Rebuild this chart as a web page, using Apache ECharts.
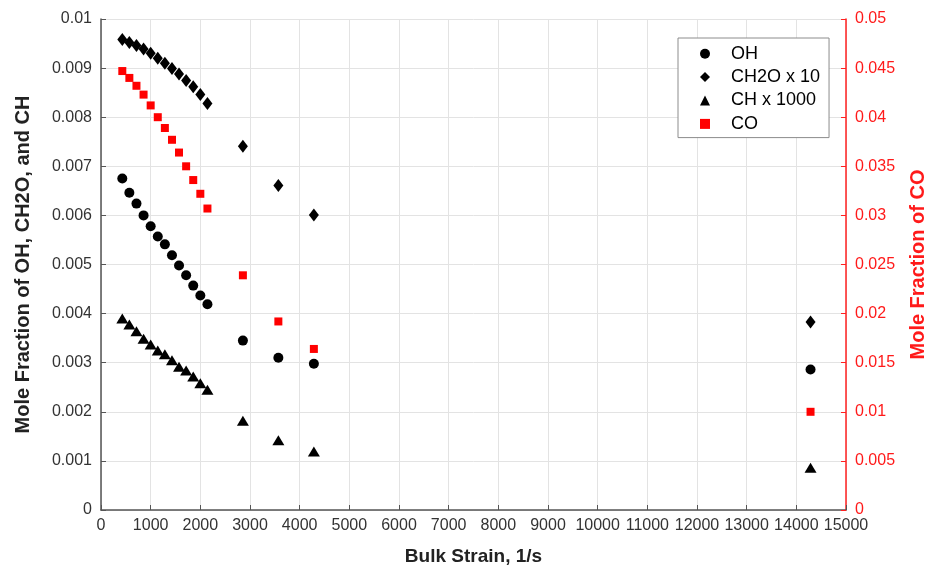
<!DOCTYPE html>
<html>
<head>
<meta charset="utf-8">
<script src="https://cdn.jsdelivr.net/npm/echarts@6/dist/echarts.min.js"></script>
<style>
  html, body { margin: 0; padding: 0; background: #fff; }
  #chart { width: 926px; height: 569px; }
</style>
</head>
<body>
<div id="chart"></div>
<script>
(function () {

    // bulk strain, 1/s
    var strain = [429, 571, 714, 857, 1000, 1143, 1286, 1429, 1571, 1714, 1857, 2000, 2143, 2857, 3571, 4286, 14286];

    var oh = [0.00675, 0.00646, 0.00624, 0.00600, 0.00578, 0.00557, 0.00541, 0.00519, 0.00498, 0.00478, 0.00457, 0.00437, 0.00419,
        0.00345, 0.00310, 0.00298, 0.00286];
    var ch2o = [0.00958, 0.00952, 0.00946, 0.00939, 0.00930, 0.00920, 0.00910, 0.00899, 0.00888, 0.00875, 0.00862, 0.00846, 0.00828,
        0.00741, 0.00661, 0.00601, 0.00383];
    var ch = [0.00390, 0.00378, 0.00364, 0.00349, 0.00337, 0.00325, 0.00317, 0.00305, 0.00292, 0.00284, 0.00272, 0.00258, 0.00245,
        0.00182, 0.00142, 0.00119, 0.00086];
    var co = [0.0447, 0.0440, 0.0432, 0.0423, 0.0412, 0.0400, 0.0389, 0.0377, 0.0364, 0.0350, 0.0336, 0.0322, 0.0307,
        0.0239, 0.0192, 0.0164, 0.0100];

    var xTicks = [0, 1000, 2000, 3000, 4000, 5000, 6000, 7000, 8000, 9000, 10000, 11000, 12000, 13000, 14000, 15000];
    var leftTicks = ['0', '0.001', '0.002', '0.003', '0.004', '0.005', '0.006', '0.007', '0.008', '0.009', '0.01'];
    var rightTicks = ['0', '0.005', '0.01', '0.015', '0.02', '0.025', '0.03', '0.035', '0.04', '0.045', '0.05'];

    var font = "'Liberation Sans', Arial, sans-serif";

    function pairs(ys) {
        return strain.map(function (x, i) { return [x, ys[i]]; });
    }

    function tickIndex(value, step) {
        return Math.round(value / step);
    }

    var option = {
        animation: false,
        textStyle: { fontFamily: font },
        grid: {
            left: 101,
            right: 80,
            top: 19,
            bottom: 59,
            outerBoundsMode: 'none',
            containLabel: false
        },
        legend: {
            orient: 'vertical',
            left: 678,
            top: 38,
            padding: [4, 9, 2, 22],
            itemGap: 0,
            itemWidth: 10,
            itemHeight: 10,
            backgroundColor: '#fff',
            borderColor: '#8c8c8c',
            borderWidth: 1,
            borderRadius: 0,
            textStyle: { fontSize: 18, color: '#000', lineHeight: 23.4, padding: [0, 0, 0, 16], fontFamily: font },
            data: [
                { name: 'OH', icon: 'circle' },
                { name: 'CH2O x 10', icon: 'diamond' },
                { name: 'CH x 1000', icon: 'triangle' },
                { name: 'CO', icon: 'rect', itemStyle: { color: '#ff0000' } }
            ]
        },
        xAxis: {
            type: 'value',
            min: xTicks[0],
            max: xTicks[xTicks.length - 1],
            interval: xTicks[1] - xTicks[0],
            name: 'Bulk Strain, 1/s',
            nameLocation: 'middle',
            nameGap: 37,
            nameTextStyle: { fontSize: 19, fontWeight: 'bold', color: '#222', fontFamily: font },
            axisLine: { lineStyle: { color: '#555', width: 1.5 } },
            axisTick: { inside: true, length: 5, lineStyle: { color: '#555' } },
            axisLabel: {
                fontSize: 16, color: '#333', margin: 8,
                formatter: function (v) { return String(xTicks[tickIndex(v, 1000)]); }
            },
            splitLine: { show: true, lineStyle: { color: '#e3e3e3' } }
        },
        yAxis: [
            {
                type: 'value',
                min: 0,
                max: 0.01,
                interval: 0.001,
                name: 'Mole Fraction of OH, CH2O, and CH',
                nameLocation: 'middle',
                nameGap: 68,
                nameTextStyle: { fontSize: 20, fontWeight: 'bold', color: '#222', fontFamily: font },
                axisLine: { show: true, lineStyle: { color: '#555', width: 1.5 } },
                axisTick: { show: true, inside: true, length: 5, lineStyle: { color: '#555' } },
                axisLabel: {
                    fontSize: 16, color: '#333', margin: 9,
                    formatter: function (v) { return leftTicks[tickIndex(v, 0.001)]; }
                },
                splitLine: { show: true, lineStyle: { color: '#e3e3e3' } }
            },
            {
                type: 'value',
                position: 'right',
                min: 0,
                max: 0.05,
                interval: 0.005,
                name: 'Mole Fraction of CO',
                nameLocation: 'middle',
                nameGap: 62,
                nameRotate: 90,
                nameTextStyle: { fontSize: 20, fontWeight: 'bold', color: '#ff1a1a', fontFamily: font },
                axisLine: { show: true, lineStyle: { color: '#ff2020', width: 1.5 } },
                axisTick: { show: true, inside: true, length: 5, lineStyle: { color: '#ff2020' } },
                axisLabel: {
                    fontSize: 16, color: '#ff1a1a', margin: 9,
                    formatter: function (v) { return rightTicks[tickIndex(v, 0.005)]; }
                },
                splitLine: { show: false }
            }
        ],
        series: [
            {
                name: 'OH',
                type: 'scatter',
                symbol: 'circle',
                symbolSize: 10,
                itemStyle: { color: '#000', opacity: 1 },
                data: pairs(oh)
            },
            {
                name: 'CH2O x 10',
                type: 'scatter',
                symbol: 'diamond',
                symbolSize: [10, 13],
                itemStyle: { color: '#000', opacity: 1 },
                data: pairs(ch2o)
            },
            {
                name: 'CH x 1000',
                type: 'scatter',
                symbol: 'triangle',
                symbolSize: [12, 10],
                itemStyle: { color: '#000', opacity: 1 },
                data: pairs(ch)
            },
            {
                name: 'CO',
                type: 'scatter',
                yAxisIndex: 1,
                symbol: 'rect',
                symbolSize: 8,
                itemStyle: { color: '#ff0000', opacity: 1 },
                data: pairs(co)
            }
        ]
    };

    var myChart = echarts.init(document.getElementById('chart'));
    myChart.setOption(option);

})();
</script>
</body>
</html>
